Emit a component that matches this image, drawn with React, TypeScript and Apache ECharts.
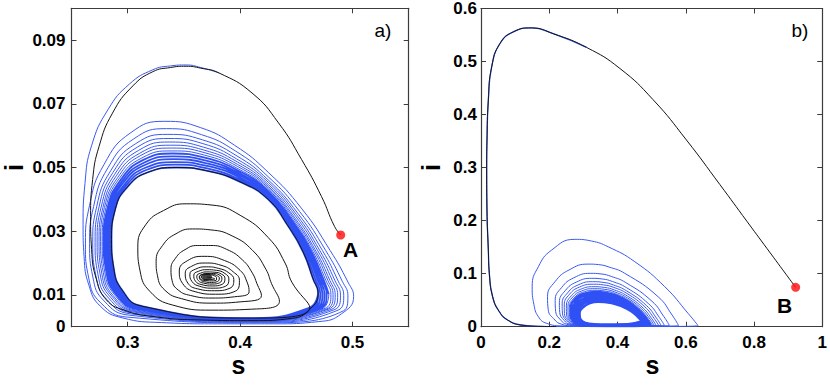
import React, { useEffect, useRef } from 'react';
import * as echarts from 'echarts';

// ---------- tick values ----------
const aXTicks = [0.3, 0.4, 0.5];
const aYTicks = [0, 0.01, 0.03, 0.05, 0.07, 0.09];
const bXTicks = [0, 0.2, 0.4, 0.6, 0.8, 1];
const bYTicks = [0, 0.1, 0.2, 0.3, 0.4, 0.5, 0.6];

// ---------- panel a) ----------
const pointA = [0.4895, 0.0288];
const fociA = [0.3706, 0.0156];

// black trajectory from A: first large loop, until it meets the cycle
const aBlackStart = [
  [0.4895, 0.0288], [0.484, 0.0315], [0.4724, 0.0409], [0.4547, 0.0525], [0.4342, 0.064],
  [0.4106, 0.0734], [0.3812, 0.0797], [0.365, 0.0812], [0.352, 0.0818], [0.338, 0.0814],
  [0.3224, 0.0801], [0.3045, 0.0756], [0.2865, 0.0671], [0.2745, 0.0566], [0.2688, 0.0462],
  [0.267, 0.0346], [0.2679, 0.0242], [0.2723, 0.0147], [0.2811, 0.0084], [0.2959, 0.0053],
  [0.3224, 0.0032], [0.3665, 0.0021], [0.4106, 0.0019], [0.4459, 0.0026], [0.462, 0.0055],
];
// the limit cycle (inner edge of the blue band)
const aCycle = [
  [0.4694, 0.0105], [0.465, 0.015], [0.456, 0.0235], [0.442, 0.032], [0.425, 0.04], [0.4, 0.0455],
  [0.37, 0.049], [0.343, 0.05], [0.318, 0.0485], [0.3, 0.044], [0.289, 0.037], [0.2856, 0.0273],
  [0.2875, 0.0185], [0.295, 0.0115], [0.312, 0.0065], [0.41, 0.0027], [0.462, 0.006],
];
// black spiral towards the focus
const aSpiral = [
  [[0.446, 0.014], [0.44, 0.02], [0.425, 0.028], [0.4, 0.035], [0.375, 0.0382], [0.352, 0.0386], [0.332, 0.0365], [0.316, 0.032], [0.309, 0.025], [0.311, 0.0175], [0.32, 0.011], [0.34, 0.0068], [0.375, 0.0052], [0.41, 0.0055], [0.435, 0.008]],
  [[0.428, 0.0135], [0.423, 0.018], [0.411, 0.024], [0.393, 0.0285], [0.374, 0.0304], [0.3576, 0.0307], [0.343, 0.0292], [0.331, 0.0255], [0.3253, 0.0205], [0.3265, 0.016], [0.333, 0.0115], [0.348, 0.0088], [0.375, 0.0074], [0.4, 0.0078], [0.419, 0.0098]],
  [[0.415, 0.0135], [0.411, 0.0168], [0.402, 0.021], [0.388, 0.0243], [0.374, 0.0255], [0.362, 0.0255], [0.351, 0.0242], [0.3425, 0.0215], [0.3385, 0.018], [0.3395, 0.0145], [0.345, 0.0115], [0.356, 0.0098], [0.375, 0.009], [0.395, 0.0094], [0.408, 0.011]],
  [[0.4062, 0.014], [0.4, 0.0177], [0.386, 0.0208], [0.368, 0.0221], [0.353, 0.0207], [0.3459, 0.0175], [0.349, 0.0135], [0.36, 0.011], [0.378, 0.0102], [0.396, 0.0112]],
  [[0.3994, 0.0145], [0.394, 0.0172], [0.383, 0.0193], [0.369, 0.02], [0.357, 0.019], [0.3512, 0.0168], [0.3535, 0.0137], [0.362, 0.0119], [0.377, 0.0113], [0.391, 0.0121]],
  [[0.3944, 0.0148], [0.39, 0.0169], [0.381, 0.0183], [0.37, 0.0188], [0.3605, 0.0181], [0.3553, 0.0165], [0.3572, 0.0142], [0.364, 0.0127], [0.376, 0.0121], [0.387, 0.0127]],
  [[0.39, 0.015], [0.3865, 0.0167], [0.379, 0.0177], [0.3705, 0.0179], [0.363, 0.0174], [0.3588, 0.0162], [0.3603, 0.0143], [0.366, 0.0132], [0.3755, 0.0128], [0.384, 0.0133]],
  [[0.3865, 0.0152], [0.3835, 0.0165], [0.3775, 0.0171], [0.3705, 0.0172], [0.3648, 0.0168], [0.3615, 0.0159], [0.3628, 0.0145], [0.3675, 0.0137], [0.375, 0.0134], [0.3818, 0.0138]],
  [[0.3838, 0.0153], [0.3812, 0.0163], [0.3765, 0.0167], [0.3705, 0.0167], [0.3662, 0.0164], [0.3637, 0.0157], [0.3647, 0.0147], [0.3685, 0.0141], [0.3745, 0.0139], [0.38, 0.0142]],
  [[0.3815, 0.0153], [0.379, 0.0161], [0.375, 0.0165], [0.37, 0.0166], [0.366, 0.0163], [0.364, 0.0157], [0.365, 0.0149], [0.369, 0.0145], [0.3745, 0.0144], [0.379, 0.0147]],
  [[0.379, 0.0154], [0.377, 0.016], [0.3735, 0.0163], [0.3695, 0.0164], [0.3665, 0.0161], [0.3655, 0.0156], [0.3663, 0.0151], [0.3695, 0.0148], [0.374, 0.0148], [0.3775, 0.015]],
  [[0.3706, 0.0156]],
];
// blue trajectory: first loop (shares the black arc at the start)
const aBlueFirst = [
  [0.3812, 0.0797], [0.365, 0.0814], [0.352, 0.0822], [0.338, 0.0819], [0.3224, 0.0807],
  [0.3015, 0.0762], [0.2825, 0.0682], [0.268, 0.057], [0.262, 0.045], [0.2603, 0.032],
  [0.2612, 0.022], [0.2655, 0.013], [0.2755, 0.0065], [0.295, 0.0028], [0.33, 0.0013],
  [0.38, 0.0009], [0.43, 0.0009], [0.47, 0.0016], [0.49, 0.004],
];
// blue loops, outer (separate lines)
const aBlueOuter = [
  [[0.501, 0.0095], [0.496, 0.014], [0.48, 0.024], [0.455, 0.037], [0.425, 0.0485], [0.395, 0.057], [0.365, 0.0625], [0.333, 0.0645], [0.303, 0.061], [0.279, 0.051], [0.266, 0.038], [0.2624, 0.026], [0.2655, 0.015], [0.276, 0.0075], [0.3, 0.003], [0.42, 0.0012], [0.492, 0.005]],
  [[0.4959, 0.0097], [0.491, 0.0142], [0.4762, 0.0239], [0.4529, 0.0362], [0.425, 0.0471], [0.3958, 0.0552], [0.3658, 0.0603], [0.3346, 0.0622], [0.3054, 0.059], [0.2824, 0.0499], [0.2697, 0.0378], [0.2661, 0.0262], [0.269, 0.0156], [0.279, 0.0081], [0.3019, 0.0036], [0.4184, 0.0014], [0.4872, 0.0052]],
  [[0.4922, 0.0098], [0.4873, 0.0143], [0.4733, 0.0239], [0.4514, 0.0356], [0.425, 0.0461], [0.3964, 0.0538], [0.3664, 0.0587], [0.3358, 0.0604], [0.3072, 0.0575], [0.2849, 0.049], [0.2724, 0.0377], [0.2689, 0.0264], [0.2717, 0.016], [0.2813, 0.0086], [0.3034, 0.004], [0.4172, 0.0016], [0.4836, 0.0053]],
  [[0.4893, 0.0099], [0.4845, 0.0144], [0.4711, 0.0238], [0.4502, 0.0352], [0.425, 0.0454], [0.3969, 0.0527], [0.3669, 0.0575], [0.3367, 0.0591], [0.3086, 0.0564], [0.2868, 0.0484], [0.2745, 0.0376], [0.271, 0.0265], [0.2736, 0.0163], [0.283, 0.009], [0.3044, 0.0043], [0.4163, 0.0018], [0.4809, 0.0054]],
  [[0.4868, 0.01], [0.4821, 0.0145], [0.4692, 0.0238], [0.4492, 0.0348], [0.425, 0.0447], [0.3973, 0.0518], [0.3673, 0.0564], [0.3375, 0.058], [0.3098, 0.0554], [0.2885, 0.0479], [0.2764, 0.0376], [0.2728, 0.0266], [0.2754, 0.0166], [0.2846, 0.0093], [0.3054, 0.0046], [0.4155, 0.0019], [0.4785, 0.0055]],
  [[0.4846, 0.01], [0.4799, 0.0145], [0.4675, 0.0237], [0.4482, 0.0344], [0.425, 0.0441], [0.3976, 0.051], [0.3676, 0.0555], [0.3382, 0.057], [0.3108, 0.0545], [0.2899, 0.0474], [0.278, 0.0375], [0.2745, 0.0267], [0.2769, 0.0168], [0.2859, 0.0096], [0.3062, 0.0048], [0.4148, 0.002], [0.4764, 0.0055]],
  [[0.4827, 0.0101], [0.478, 0.0146], [0.4661, 0.0237], [0.4475, 0.0341], [0.425, 0.0436], [0.3979, 0.0503], [0.3679, 0.0547], [0.3388, 0.0561], [0.3117, 0.0538], [0.2912, 0.0469], [0.2793, 0.0374], [0.2759, 0.0268], [0.2783, 0.017], [0.287, 0.0098], [0.307, 0.005], [0.4142, 0.0021], [0.4746, 0.0056]],
  [[0.4808, 0.0101], [0.4762, 0.0146], [0.4646, 0.0237], [0.4467, 0.0338], [0.425, 0.0431], [0.3982, 0.0496], [0.3682, 0.0539], [0.3394, 0.0552], [0.3126, 0.053], [0.2924, 0.0465], [0.2807, 0.0374], [0.2773, 0.0268], [0.2796, 0.0172], [0.2882, 0.0101], [0.3077, 0.0052], [0.4136, 0.0022], [0.4728, 0.0056]],
];
// blue loops, dense band next to the cycle
const aBlueDense = [
  [[0.4789, 0.0102], [0.4743, 0.0147], [0.4632, 0.0237], [0.4459, 0.0335], [0.425, 0.0426], [0.3985, 0.049], [0.3685, 0.0531], [0.34, 0.0544], [0.3135, 0.0523], [0.2937, 0.0461], [0.2821, 0.0373], [0.2786, 0.0269], [0.2809, 0.0175], [0.2893, 0.0103], [0.3084, 0.0055], [0.413, 0.0023], [0.471, 0.0057]],
  [[0.477, 0.0103], [0.4724, 0.0148], [0.4618, 0.0236], [0.4451, 0.0332], [0.425, 0.042], [0.3988, 0.0483], [0.3688, 0.0522], [0.3406, 0.0535], [0.3144, 0.0515], [0.295, 0.0457], [0.2835, 0.0372], [0.28, 0.027], [0.2822, 0.0177], [0.2904, 0.0105], [0.3091, 0.0057], [0.4124, 0.0023], [0.4692, 0.0058]],
  [[0.4751, 0.0103], [0.4706, 0.0148], [0.4603, 0.0236], [0.4443, 0.0329], [0.425, 0.0415], [0.3991, 0.0476], [0.3691, 0.0514], [0.3412, 0.0526], [0.3153, 0.0508], [0.2962, 0.0453], [0.2849, 0.0372], [0.2814, 0.0271], [0.2835, 0.0179], [0.2916, 0.0108], [0.3098, 0.0059], [0.4118, 0.0024], [0.4674, 0.0058]],
  [[0.4732, 0.0104], [0.4687, 0.0149], [0.4589, 0.0236], [0.4436, 0.0326], [0.425, 0.041], [0.3994, 0.0469], [0.3694, 0.0506], [0.3418, 0.0517], [0.3162, 0.05], [0.2975, 0.0448], [0.2862, 0.0371], [0.2828, 0.0271], [0.2849, 0.0181], [0.2927, 0.011], [0.3106, 0.0061], [0.4112, 0.0025], [0.4656, 0.0059]],
  [[0.4713, 0.0104], [0.4669, 0.0149], [0.4574, 0.0235], [0.4428, 0.0323], [0.425, 0.0405], [0.3997, 0.0462], [0.3697, 0.0498], [0.3424, 0.0509], [0.3171, 0.0493], [0.2987, 0.0444], [0.2876, 0.0371], [0.2842, 0.0272], [0.2862, 0.0183], [0.2939, 0.0113], [0.3113, 0.0063], [0.4106, 0.0026], [0.4638, 0.0059]],
];

// ---------- panel b) ----------
const pointB = [0.922, 0.0742];
const bBlackPath = [
  [0.922, 0.0742], [0.85, 0.137], [0.78, 0.198], [0.7, 0.268], [0.602, 0.352],
  [0.5043, 0.428], [0.4068, 0.487], [0.3093, 0.5266], [0.2116, 0.5525], [0.148, 0.5634], [0.0946, 0.5559],
  [0.0556, 0.534], [0.0313, 0.49], [0.0215, 0.4272], [0.0175, 0.35], [0.0166, 0.3],
  [0.0175, 0.22], [0.0215, 0.1445], [0.0244, 0.1006], [0.0341, 0.0565], [0.0537, 0.0283],
  [0.078, 0.0126], [0.117, 0.0032], [0.166, 0.0008], [0.22, 0.0003],
];
const bBlueOuter = [
  [[0.45, 0.0003], [0.636, 0.002], [0.607, 0.025], [0.5385, 0.0754], [0.4507, 0.1225], [0.3726, 0.1507], [0.324, 0.1615], [0.275, 0.1647], [0.207, 0.1445], [0.168, 0.113], [0.15, 0.0754], [0.155, 0.042], [0.168, 0.019], [0.192, 0.0064], [0.24, 0.0015], [0.4, 0.0008]],
  [[0.579, 0.002], [0.56, 0.022], [0.519, 0.0565], [0.4214, 0.1006], [0.375, 0.1125], [0.345, 0.117], [0.314, 0.118], [0.258, 0.107], [0.217, 0.085], [0.195, 0.0565], [0.197, 0.032], [0.2166, 0.0126], [0.235, 0.005], [0.27, 0.0015], [0.42, 0.0008]],
  [[0.5519, 0.0023], [0.5359, 0.019], [0.5012, 0.0478], [0.4242, 0.0832], [0.3816, 0.0948], [0.3516, 0.0995], [0.3209, 0.1006], [0.2719, 0.0922], [0.2365, 0.0741], [0.2174, 0.0494], [0.2188, 0.0287], [0.2342, 0.0121], [0.2508, 0.0047], [0.2832, 0.0015], [0.42, 0.0009]],
  [[0.5372, 0.0025], [0.5228, 0.0174], [0.4915, 0.043], [0.4258, 0.0738], [0.3852, 0.0852], [0.3552, 0.09], [0.3247, 0.0912], [0.2794, 0.0841], [0.2471, 0.0682], [0.2297, 0.0455], [0.2307, 0.0269], [0.2438, 0.0118], [0.2595, 0.0045], [0.2904, 0.0015], [0.42, 0.001]],
  [[0.5273, 0.0026], [0.514, 0.0163], [0.485, 0.0398], [0.4268, 0.0675], [0.3876, 0.0788], [0.3576, 0.0836], [0.3272, 0.0849], [0.2845, 0.0787], [0.2542, 0.0642], [0.2378, 0.043], [0.2386, 0.0257], [0.2502, 0.0116], [0.2652, 0.0044], [0.2952, 0.0015], [0.42, 0.0011]],
  [[0.52, 0.0027], [0.5074, 0.0155], [0.4801, 0.0374], [0.4276, 0.0627], [0.3894, 0.074], [0.3594, 0.0788], [0.3291, 0.0801], [0.2882, 0.0746], [0.2595, 0.0612], [0.244, 0.041], [0.2445, 0.0248], [0.2551, 0.0115], [0.2696, 0.0043], [0.2988, 0.0015], [0.42, 0.0011]],
  [[0.5126, 0.0028], [0.5009, 0.0147], [0.4753, 0.035], [0.4284, 0.058], [0.3912, 0.0692], [0.3612, 0.0741], [0.331, 0.0754], [0.292, 0.0706], [0.2648, 0.0583], [0.2501, 0.0391], [0.2505, 0.0239], [0.2599, 0.0113], [0.2739, 0.0042], [0.3024, 0.0015], [0.42, 0.0011]],
  [[0.5068, 0.0029], [0.4958, 0.0141], [0.4715, 0.0332], [0.429, 0.0543], [0.3926, 0.0654], [0.3626, 0.0704], [0.3325, 0.0717], [0.295, 0.0674], [0.2689, 0.056], [0.2548, 0.0376], [0.2551, 0.0232], [0.2636, 0.0112], [0.2772, 0.0041], [0.3052, 0.0015], [0.42, 0.0012]],
  [[0.5019, 0.0029], [0.4914, 0.0135], [0.4682, 0.0316], [0.4295, 0.0512], [0.3938, 0.0622], [0.3638, 0.0672], [0.3337, 0.0686], [0.2975, 0.0647], [0.2725, 0.054], [0.2589, 0.0363], [0.259, 0.0226], [0.2668, 0.0111], [0.2801, 0.0041], [0.3076, 0.0015], [0.42, 0.0012]],
];
const bBlueDense = [
  [[0.497, 0.003], [0.487, 0.013], [0.465, 0.03], [0.43, 0.048], [0.395, 0.059], [0.365, 0.064], [0.335, 0.0654], [0.3, 0.062], [0.276, 0.052], [0.263, 0.035], [0.263, 0.022], [0.27, 0.011], [0.283, 0.004], [0.31, 0.0015], [0.42, 0.0012]],
  [[0.4916, 0.0044], [0.4816, 0.014], [0.46, 0.0298], [0.426, 0.0462], [0.393, 0.056], [0.3644, 0.0605], [0.3366, 0.0617], [0.3036, 0.0584], [0.2808, 0.049], [0.2682, 0.0332], [0.2684, 0.021], [0.2756, 0.0108], [0.2894, 0.0044], [0.318, 0.0021], [0.422, 0.002]],
  [[0.4862, 0.0058], [0.4762, 0.015], [0.455, 0.0296], [0.422, 0.0444], [0.391, 0.053], [0.3638, 0.057], [0.3382, 0.058], [0.3072, 0.0548], [0.2856, 0.046], [0.2734, 0.0314], [0.2738, 0.02], [0.2812, 0.0106], [0.2958, 0.0048], [0.326, 0.0027], [0.424, 0.0027]],
  [[0.4808, 0.0072], [0.4708, 0.016], [0.45, 0.0294], [0.418, 0.0426], [0.389, 0.05], [0.3632, 0.0535], [0.3398, 0.0544], [0.3108, 0.0512], [0.2904, 0.043], [0.2786, 0.0296], [0.2792, 0.019], [0.2868, 0.0104], [0.3022, 0.0052], [0.334, 0.0033], [0.426, 0.0035]],
  [[0.4754, 0.0086], [0.4654, 0.017], [0.445, 0.0292], [0.414, 0.0408], [0.387, 0.047], [0.3626, 0.05], [0.3414, 0.0507], [0.3144, 0.0476], [0.2952, 0.04], [0.2838, 0.0278], [0.2846, 0.018], [0.2924, 0.0102], [0.3086, 0.0056], [0.342, 0.0039], [0.428, 0.0042]],
  [[0.47, 0.01], [0.46, 0.018], [0.44, 0.029], [0.41, 0.039], [0.385, 0.044], [0.362, 0.0465], [0.343, 0.047], [0.318, 0.044], [0.3, 0.037], [0.289, 0.026], [0.29, 0.017], [0.298, 0.01], [0.315, 0.006], [0.35, 0.0045], [0.43, 0.005], [0.47, 0.01]],
];

// ---------- styling ----------
const BLUE = '#3a5af2';
const BLUE_DENSE = '#2f50f4';
const BLACK = '#141414';
const FRAME = '#3c3c3c';
const FONT = '"Liberation Sans", Arial, Helvetica, sans-serif';

const flat = (loops: number[][][]) => loops.reduce((acc, l) => acc.concat(l), [] as number[][]);

function axesFor(grid: number, xr: number[], yr: number[], xt: number[], yt: number[], yMargin: number, nameGap: number) {
  const line = { show: true, onZero: false, lineStyle: { color: FRAME, width: 1.2 } };
  const tick = (vals: number[]) => ({ show: true, inside: true, length: 5, customValues: vals, lineStyle: { color: FRAME, width: 1 } });
  const lab = (vals: number[], margin: number) => ({
    show: true, customValues: vals, margin, color: '#000', fontFamily: FONT, fontWeight: 'bold', fontSize: 17,
    formatter: (v: number) => String(v),
  });
  const xAxis = [
    { gridIndex: grid, type: 'value', min: xr[0], max: xr[1], position: 'bottom', axisLine: line, axisTick: tick(xt), axisLabel: lab(xt, 7), splitLine: { show: false } },
    { gridIndex: grid, type: 'value', min: xr[0], max: xr[1], position: 'top', axisLine: line, axisTick: tick(xt), axisLabel: { show: false }, splitLine: { show: false } },
  ];
  const yAxis = [
    {
      gridIndex: grid, type: 'value', min: yr[0], max: yr[1], position: 'left', axisLine: line, axisTick: tick(yt), axisLabel: lab(yt, yMargin), splitLine: { show: false },
      name: 'i', nameLocation: 'middle', nameRotate: 90, nameGap,
      nameTextStyle: { fontFamily: FONT, fontWeight: 'bold', fontSize: 25, color: '#000', lineHeight: 20 },
    },
    { gridIndex: grid, type: 'value', min: yr[0], max: yr[1], position: 'right', axisLine: line, axisTick: tick(yt), axisLabel: { show: false }, splitLine: { show: false } },
  ];
  return { xAxis, yAxis };
}

function lineSeries(xi: number, yi: number, data: number[][], color: string, width: number, z: number) {
  return {
    type: 'line', xAxisIndex: xi, yAxisIndex: yi, data, showSymbol: false, symbol: 'none', smooth: 0.5,
    lineStyle: { color, width }, silent: true, z, animation: false,
  };
}

export default function App() {
  const ref = useRef<HTMLDivElement>(null);
  useEffect(() => {
    const chart = echarts.init(ref.current!, null, { renderer: 'svg' });
    const a = axesFor(0, [0.25, 0.55], [0, 0.1], aXTicks, aYTicks, 6, 48);
    const b = axesFor(1, [0, 1], [0, 0.6], bXTicks, bYTicks, 4, 40);
    const txt = (x: number, y: number, text: string, font: string) => ({
      type: 'text', x, y,
      style: { text, font, fill: '#000', textAlign: 'center', textVerticalAlign: 'middle', align: 'center', verticalAlign: 'middle' },
    });
    chart.setOption({
      animation: false,
      backgroundColor: '#fff',
      grid: [
        { left: 68, top: 8.3, width: 340.7, height: 318.4 },
        { left: 481, top: 8.3, width: 341.7, height: 318.4 },
      ],
      xAxis: [...a.xAxis, ...b.xAxis],
      yAxis: [...a.yAxis, ...b.yAxis],
      series: [
        // panel a
        lineSeries(0, 0, aBlueFirst.concat(flat(aBlueOuter)).concat([aBlueDense[0][0]]), BLUE, 1, 2),
        lineSeries(0, 0, flat(aBlueDense).concat(aCycle).concat([aCycle[0]]), BLUE_DENSE, 1.8, 2),
        lineSeries(0, 0, aBlackStart.concat(aCycle).concat(flat(aSpiral)), BLACK, 1, 3),
        { type: 'scatter', xAxisIndex: 0, yAxisIndex: 0, data: [fociA], symbolSize: [10, 7], itemStyle: { color: BLACK }, silent: true, z: 3 },
        { type: 'scatter', xAxisIndex: 0, yAxisIndex: 0, data: [pointA], symbolSize: 9, itemStyle: { color: '#ff0a0a' }, silent: true, z: 5 },
        // panel b
        lineSeries(2, 2, bBlackPath.slice(7), BLUE, 1.3, 2),
        lineSeries(2, 2, bBlackPath.slice(-1).concat(flat(bBlueOuter)).concat([bBlueDense[0][0]]), BLUE, 1, 2),
        lineSeries(2, 2, flat(bBlueDense), BLUE_DENSE, 2.3, 2),
        lineSeries(2, 2, bBlackPath, BLACK, 1, 3),
        { type: 'scatter', xAxisIndex: 2, yAxisIndex: 2, data: [pointB], symbolSize: 9, itemStyle: { color: '#ff0a0a' }, silent: true, z: 5 },
      ],
      graphic: [
        txt(383, 30, 'a)', `19px ${FONT}`),
        txt(800, 30, 'b)', `19px ${FONT}`),
        txt(350.5, 249, 'A', `bold 21px ${FONT}`),
        txt(784.5, 305.5, 'B', `bold 21px ${FONT}`),
        txt(238.5, 365, 's', `bold 25px ${FONT}`),
        txt(652.5, 365, 's', `bold 25px ${FONT}`),
      ],
    });
    return () => chart.dispose();
  }, []);
  return <div ref={ref} style={{ position: 'absolute', left: 0, top: 0, width: 830, height: 386 }} />;
}
